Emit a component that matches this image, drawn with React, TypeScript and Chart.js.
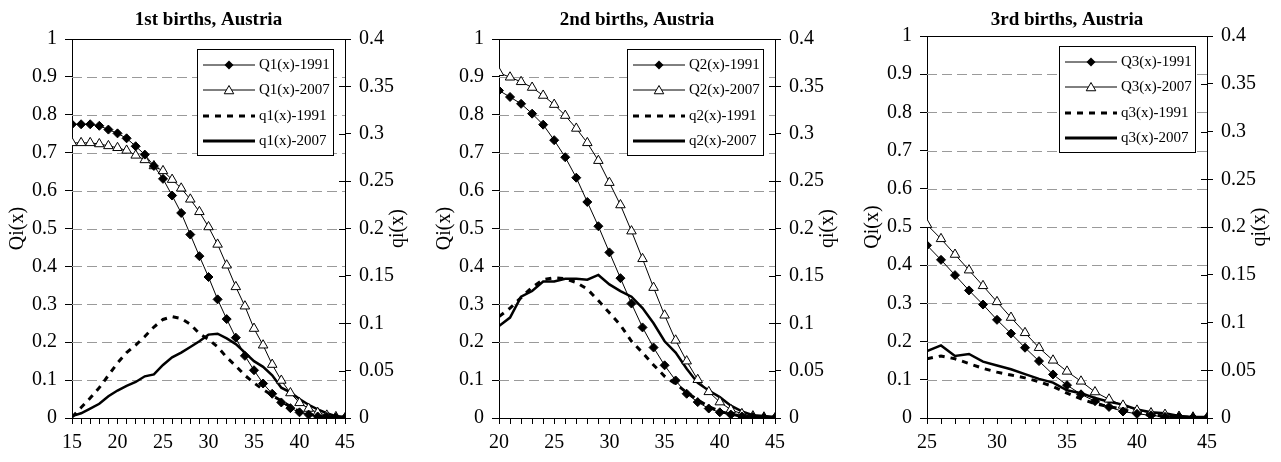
import React, { useEffect, useRef } from "react";
import { Chart, registerables } from "chart.js";

Chart.register(...registerables);

const FONT = '"Liberation Serif", "Times New Roman", serif';

// ---------- data ----------
const ages1 = [15, 16, 17, 18, 19, 20, 21, 22, 23, 24, 25, 26, 27, 28, 29, 30, 31, 32, 33, 34, 35, 36, 37, 38, 39, 40, 41, 42, 43, 44, 45];
const Q1_1991 = [0.775, 0.775, 0.775, 0.771, 0.761, 0.751, 0.738, 0.717, 0.695, 0.665, 0.631, 0.587, 0.541, 0.484, 0.427, 0.372, 0.313, 0.261, 0.212, 0.164, 0.126, 0.091, 0.064, 0.041, 0.026, 0.015, 0.009, 0.004, 0.003, 0.001, 0];
const Q1_2007 = [0.726, 0.726, 0.726, 0.723, 0.718, 0.713, 0.706, 0.693, 0.681, 0.665, 0.652, 0.629, 0.606, 0.577, 0.544, 0.504, 0.458, 0.403, 0.346, 0.295, 0.236, 0.192, 0.141, 0.099, 0.066, 0.04, 0.025, 0.014, 0.007, 0.003, 0];
const q1_1991 = [0.001, 0.011, 0.021, 0.032, 0.045, 0.058, 0.069, 0.077, 0.086, 0.096, 0.104, 0.107, 0.105, 0.099, 0.089, 0.083, 0.075, 0.064, 0.055, 0.045, 0.037, 0.03, 0.024, 0.018, 0.012, 0.007, 0.004, 0.002, 0.001, 0.0005, 0];
const q1_2007 = [0.002, 0.005, 0.01, 0.015, 0.023, 0.029, 0.034, 0.038, 0.044, 0.046, 0.056, 0.064, 0.069, 0.075, 0.081, 0.088, 0.089, 0.084, 0.078, 0.069, 0.06, 0.054, 0.045, 0.032, 0.027, 0.02, 0.014, 0.009, 0.005, 0.002, 0.001];

const ages2 = [20, 21, 22, 23, 24, 25, 26, 27, 28, 29, 30, 31, 32, 33, 34, 35, 36, 37, 38, 39, 40, 41, 42, 43, 44, 45];
const Q2_1991 = [0.864, 0.847, 0.829, 0.803, 0.774, 0.733, 0.688, 0.634, 0.57, 0.506, 0.437, 0.369, 0.302, 0.239, 0.186, 0.139, 0.099, 0.064, 0.042, 0.025, 0.015, 0.009, 0.004, 0.003, 0.001, 0];
const Q2_2007 = [0.911, 0.899, 0.887, 0.872, 0.851, 0.827, 0.798, 0.764, 0.726, 0.679, 0.621, 0.562, 0.493, 0.42, 0.344, 0.271, 0.205, 0.15, 0.101, 0.069, 0.042, 0.022, 0.011, 0.005, 0.002, 0];
const q2_1991 = [0.107, 0.116, 0.127, 0.138, 0.146, 0.148, 0.147, 0.143, 0.136, 0.124, 0.111, 0.098, 0.081, 0.069, 0.056, 0.044, 0.036, 0.027, 0.019, 0.012, 0.007, 0.004, 0.002, 0.001, 0.0005, 0];
const q2_2007 = [0.097, 0.106, 0.128, 0.134, 0.144, 0.144, 0.147, 0.147, 0.146, 0.151, 0.141, 0.134, 0.128, 0.116, 0.1, 0.081, 0.069, 0.052, 0.037, 0.029, 0.022, 0.013, 0.007, 0.003, 0.002, 0.001];

const ages3 = [25, 26, 27, 28, 29, 30, 31, 32, 33, 34, 35, 36, 37, 38, 39, 40, 41, 42, 43, 44, 45];
const Q3_1991 = [0.452, 0.414, 0.374, 0.334, 0.297, 0.257, 0.221, 0.184, 0.149, 0.114, 0.086, 0.062, 0.044, 0.029, 0.017, 0.011, 0.007, 0.003, 0.003, 0.001, 0];
const Q3_2007 = [0.506, 0.469, 0.428, 0.387, 0.346, 0.304, 0.263, 0.223, 0.184, 0.151, 0.122, 0.096, 0.068, 0.049, 0.033, 0.02, 0.013, 0.009, 0.004, 0.002, 0];
const q3_1991 = [0.062, 0.065, 0.062, 0.057, 0.052, 0.048, 0.045, 0.042, 0.038, 0.033, 0.026, 0.02, 0.015, 0.012, 0.009, 0.005, 0.003, 0.002, 0.001, 0.0005, 0];
const q3_2007 = [0.07, 0.076, 0.065, 0.067, 0.059, 0.055, 0.051, 0.046, 0.041, 0.037, 0.029, 0.026, 0.021, 0.017, 0.014, 0.009, 0.006, 0.005, 0.002, 0.001, 0.001];

const titles = ["1st births, Austria", "2nd births, Austria", "3rd births, Austria"];
const legendLabels1 = ["Q1(x)-1991", "Q1(x)-2007", "q1(x)-1991", "q1(x)-2007"];
const legendLabels2 = ["Q2(x)-1991", "Q2(x)-2007", "q2(x)-1991", "q2(x)-2007"];
const legendLabels3 = ["Q3(x)-1991", "Q3(x)-2007", "q3(x)-1991", "q3(x)-2007"];
const leftAxisTitle = "Qi(x)";
const rightAxisTitle = "qi(x)";

// ---------- layout ----------
const CANVAS_W = 427;
const CANVAS_H = 462;

type Panel = {
  title: string;
  ages: number[];
  Q91: number[];
  Q07: number[];
  q91: number[];
  q07: number[];
  labels: string[];
  area: { left: number; right: number; top: number; bottom: number };
  offset: number;
};

const panels: Panel[] = [
  { title: titles[0], ages: ages1, Q91: Q1_1991, Q07: Q1_2007, q91: q1_1991, q07: q1_2007, labels: legendLabels1, area: { left: 72, right: 345, top: 39, bottom: 418 }, offset: 0 },
  { title: titles[1], ages: ages2, Q91: Q2_1991, Q07: Q2_2007, q91: q2_1991, q07: q2_2007, labels: legendLabels2, area: { left: 72, right: 348, top: 39, bottom: 418 }, offset: 427 },
  { title: titles[2], ages: ages3, Q91: Q3_1991, Q07: Q3_2007, q91: q3_1991, q07: q3_2007, labels: legendLabels3, area: { left: 73, right: 353, top: 36, bottom: 418 }, offset: 854 },
];

const fmt = (v: any) => String(Number(Number(v).toFixed(2)));

function drawDiamond(ctx: CanvasRenderingContext2D, x: number, y: number, r: number) {
  ctx.beginPath();
  ctx.moveTo(x, y - r);
  ctx.lineTo(x + r, y);
  ctx.lineTo(x, y + r);
  ctx.lineTo(x - r, y);
  ctx.closePath();
  ctx.fillStyle = "#000";
  ctx.fill();
}

function drawTriangle(ctx: CanvasRenderingContext2D, x: number, y: number, r: number) {
  ctx.beginPath();
  ctx.moveTo(x, y - r);
  ctx.lineTo(x + r * 0.866, y + r * 0.5);
  ctx.lineTo(x - r * 0.866, y + r * 0.5);
  ctx.closePath();
  ctx.fillStyle = "#fff";
  ctx.fill();
  ctx.strokeStyle = "#000";
  ctx.lineWidth = 1;
  ctx.stroke();
}

function makeDecor(p: Panel) {
  return {
    id: "decor",
    beforeDraw(chart: any) {
      const ctx = chart.ctx as CanvasRenderingContext2D;
      ctx.save();
      ctx.fillStyle = "#fff";
      ctx.fillRect(0, 0, chart.width, chart.height);
      ctx.restore();
    },
    beforeDatasetsDraw(chart: any) {
      const ctx = chart.ctx as CanvasRenderingContext2D;
      const a = chart.chartArea;
      const ys = chart.scales.y;
      ctx.save();
      ctx.strokeStyle = "#9a9a9a";
      ctx.lineWidth = 1;
      ctx.setLineDash([10, 5]);
      ys.ticks.forEach((t: any) => {
        if (t.value <= 0 || t.value >= 1) return;
        const y = Math.round(ys.getPixelForValue(t.value)) + 0.5;
        ctx.beginPath();
        ctx.moveTo(a.left, y);
        ctx.lineTo(a.right, y);
        ctx.stroke();
      });
      ctx.restore();
    },
    afterDraw(chart: any) {
      const ctx = chart.ctx as CanvasRenderingContext2D;
      const a = chart.chartArea;
      const ys = chart.scales.y;
      const y1 = chart.scales.y1;
      ctx.save();
      // top border
      ctx.strokeStyle = "#000";
      ctx.lineWidth = 1;
      const ty = Math.round(ys.getPixelForValue(1)) + 0.5;
      ctx.beginPath();
      ctx.moveTo(a.left, ty);
      ctx.lineTo(a.right, ty);
      ctx.stroke();
      // inner half of right axis ticks
      y1.ticks.forEach((t: any) => {
        const y = Math.round(y1.getPixelForValue(t.value)) + 0.5;
        ctx.beginPath();
        ctx.moveTo(a.right - 6, y);
        ctx.lineTo(a.right, y);
        ctx.stroke();
      });
      // title
      ctx.fillStyle = "#000";
      ctx.font = `bold 19px ${FONT}`;
      ctx.textAlign = "center";
      ctx.textBaseline = "middle";
      ctx.fillText(p.title, (a.left + a.right) / 2, 20);
      // axis titles
      ctx.font = `20px ${FONT}`;
      const cy = (a.top + a.bottom) / 2;
      ctx.save();
      ctx.translate(a.left - 54, cy);
      ctx.rotate(-Math.PI / 2);
      ctx.fillText(leftAxisTitle, 0, 0);
      ctx.restore();
      ctx.save();
      ctx.translate(a.right + 53, cy);
      ctx.rotate(-Math.PI / 2);
      ctx.fillText(rightAxisTitle, 0, 0);
      ctx.restore();
      // legend
      const bw = 136, bh = 106;
      const bx = a.right - 12 - bw;
      const by = a.top + 10;
      ctx.fillStyle = "#fff";
      ctx.fillRect(bx, by, bw, bh);
      ctx.strokeStyle = "#000";
      ctx.lineWidth = 1;
      ctx.strokeRect(Math.round(bx) + 0.5, Math.round(by) + 0.5, bw, bh);
      const rows = [16, 41, 67, 92];
      const lx0 = bx + 6, lx1 = bx + 58, mx = bx + 32, tx = bx + 62;
      rows.forEach((ry, i) => {
        const y = by + ry;
        ctx.save();
        ctx.strokeStyle = "#000";
        if (i < 2) {
          ctx.lineWidth = 1;
          ctx.setLineDash([]);
        } else if (i === 2) {
          ctx.lineWidth = 3;
          ctx.setLineDash([6, 6]);
        } else {
          ctx.lineWidth = 3;
          ctx.setLineDash([]);
        }
        ctx.beginPath();
        ctx.moveTo(lx0, y);
        ctx.lineTo(lx1, y);
        ctx.stroke();
        ctx.restore();
        if (i === 0) drawDiamond(ctx, mx, y, 4.5);
        if (i === 1) drawTriangle(ctx, mx, y + 1, 5.5);
        ctx.fillStyle = "#000";
        ctx.font = `15px ${FONT}`;
        ctx.textAlign = "left";
        ctx.textBaseline = "middle";
        ctx.fillText(p.labels[i], tx, y);
      });
      ctx.restore();
    },
  };
}

function PanelChart({ p }: { p: Panel }) {
  const ref = useRef<HTMLCanvasElement | null>(null);
  useEffect(() => {
    if (!ref.current) return;
    const toXY = (vals: number[]) => p.ages.map((a, i) => ({ x: a, y: vals[i] }));
    const tickFont = { family: FONT, size: 20 };
    const chart = new Chart(ref.current, {
      type: "line",
      data: {
        datasets: [
          {
            label: p.labels[0],
            data: toXY(p.Q91),
            yAxisID: "y",
            borderColor: "#000",
            borderWidth: 1,
            pointStyle: "rectRot",
            pointRadius: 4.5,
            pointBackgroundColor: "#000",
            pointBorderColor: "#000",
            pointBorderWidth: 1,
            tension: 0,
          },
          {
            label: p.labels[1],
            data: toXY(p.Q07),
            yAxisID: "y",
            borderColor: "#000",
            borderWidth: 1,
            pointStyle: "triangle",
            pointRadius: 5.5,
            pointBackgroundColor: "#fff",
            pointBorderColor: "#000",
            pointBorderWidth: 1,
            tension: 0,
          },
          {
            label: p.labels[2],
            data: toXY(p.q91),
            yAxisID: "y1",
            borderColor: "#000",
            borderWidth: 3,
            borderDash: [6, 6],
            pointRadius: 0,
            tension: 0,
          },
          {
            label: p.labels[3],
            data: toXY(p.q07),
            yAxisID: "y1",
            borderColor: "#000",
            borderWidth: 2.5,
            pointRadius: 0,
            tension: 0,
          },
        ],
      },
      options: {
        animation: false,
        responsive: false,
        devicePixelRatio: 1,
        layout: { padding: { top: p.area.top, left: 0, right: 0, bottom: 0 } },
        plugins: { legend: { display: false }, title: { display: false }, tooltip: { enabled: false } },
        scales: {
          x: {
            type: "linear",
            min: p.ages[0],
            max: p.ages[p.ages.length - 1],
            grid: { drawOnChartArea: false, drawTicks: true, tickLength: 6, color: "#000" },
            border: { display: true, color: "#000", width: 1 },
            ticks: {
              stepSize: 1,
              autoSkip: false,
              maxRotation: 0,
              color: "#000",
              font: tickFont,
              padding: 7,
              callback: (v: any) => (Number(v) % 5 === 0 ? String(v) : ""),
            },
            afterFit: (s: any) => {
              s.height = CANVAS_H - p.area.bottom;
            },
          },
          y: {
            type: "linear",
            position: "left",
            min: 0,
            max: 1,
            grid: { drawOnChartArea: false, drawTicks: true, tickLength: 7, color: "#000" },
            border: { display: true, color: "#000", width: 1 },
            ticks: { stepSize: 0.1, color: "#000", font: tickFont, padding: 8, callback: fmt },
            afterFit: (s: any) => {
              s.width = p.area.left;
            },
          },
          y1: {
            type: "linear",
            position: "right",
            min: 0,
            max: 0.4,
            grid: { drawOnChartArea: false, drawTicks: true, tickLength: 6, color: "#000" },
            border: { display: true, color: "#000", width: 1 },
            ticks: { stepSize: 0.05, color: "#000", font: tickFont, padding: 8, callback: fmt },
            afterFit: (s: any) => {
              s.width = CANVAS_W - p.area.right;
            },
          },
        },
      } as any,
      plugins: [makeDecor(p)],
    });
    return () => chart.destroy();
  }, [p]);
  return (
    <canvas
      ref={ref}
      width={CANVAS_W}
      height={CANVAS_H}
      style={{ position: "absolute", left: p.offset, top: 0, width: CANVAS_W, height: CANVAS_H }}
    />
  );
}

export default function App() {
  return (
    <div style={{ position: "absolute", left: 0, top: 0, width: 1281, height: 462, background: "#fff", overflow: "hidden" }}>
      {panels.map((p, i) => (
        <PanelChart key={i} p={p} />
      ))}
    </div>
  );
}
